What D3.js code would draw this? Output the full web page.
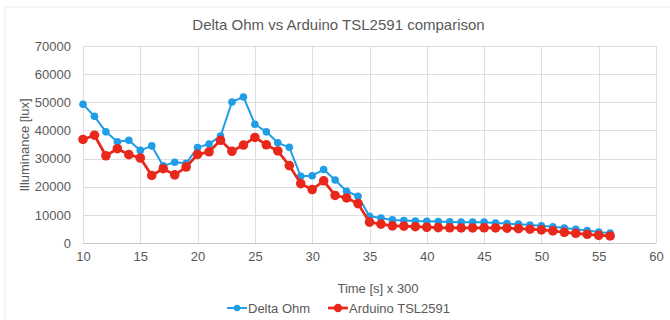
<!DOCTYPE html>
<html><head><meta charset="utf-8">
<script src="https://cdn.jsdelivr.net/npm/d3@7/dist/d3.min.js"></script>
<style>body{margin:0;background:#fff}svg{display:block}text{font-family:"Liberation Sans",Arial,sans-serif;fill:#595959}</style>
</head><body><svg id="c" width="670" height="320"></svg>
<script>
const xValues = d3.range(10, 57);
const deltaOhm = [49300,45000,39500,36000,36500,32900,34500,27400,28700,28300,33900,35200,38000,50100,51900,42200,39500,35600,34000,23700,23900,26100,22400,18400,16600,9500,8900,8200,8000,7800,7700,7600,7500,7400,7400,7400,7100,6900,6700,6400,6100,5800,5300,4900,4400,3900,3500];
const arduino = [36800,38300,31000,33500,31400,30200,24000,26400,24200,27000,31500,32400,36500,32600,34800,37500,34900,32700,27500,21100,19000,22100,16900,16000,14000,7400,6700,6100,6000,5800,5600,5450,5400,5350,5350,5400,5350,5250,5100,4900,4650,4300,3800,3450,3100,2750,2500];
const xTicks = [10,15,20,25,30,35,40,45,50,55,60];
const yTicks = [0,10000,20000,30000,40000,50000,60000,70000];
const seriesNames = ["Delta Ohm","Arduino TSL2591"];
const title = "Delta Ohm vs Arduino TSL2591 comparison";
const xTitle = "Time [s] x 300";
const yTitle = "Illuminance [lux]";

const colors = ["#1f9de6","#e8281b"];
const svg = d3.select("#c");
const x = d3.scaleLinear().domain([10,60]).range([83,656]);
const y = d3.scaleLinear().domain([0,70000]).range([243,46]);

// outer chart frame (partial)
svg.append("line").attr("x1",5).attr("x2",670).attr("y1",7).attr("y2",7).attr("stroke","#ececec");
svg.append("line").attr("x1",5).attr("x2",5).attr("y1",7).attr("y2",320).attr("stroke","#ececec");

// gridlines
svg.append("g").selectAll("line").data(yTicks).join("line")
  .attr("x1",x(10)).attr("x2",x(60)).attr("y1",d=>Math.round(y(d))+0.5).attr("y2",d=>Math.round(y(d))+0.5)
  .attr("stroke",d=>d===0?"#c8c8c8":"#dedede");
svg.append("g").selectAll("line").data(xTicks).join("line")
  .attr("x1",d=>Math.round(x(d))+0.5).attr("x2",d=>Math.round(x(d))+0.5).attr("y1",y(70000)).attr("y2",y(0))
  .attr("stroke","#dedede");

// axes labels via d3 axes
const yAxis = svg.append("g").attr("transform",`translate(${x(10)},0)`)
  .call(d3.axisLeft(y).tickValues(yTicks).tickSize(0).tickPadding(12).tickFormat(d3.format("d")));
yAxis.select(".domain").remove();
yAxis.selectAll("text").style("font-size","13px").attr("fill","#595959");
const xAxis = svg.append("g").attr("transform",`translate(0,${y(0)})`)
  .call(d3.axisBottom(x).tickValues(xTicks).tickSize(0).tickPadding(9).tickFormat(d3.format("d")));
xAxis.select(".domain").remove();
xAxis.selectAll("text").style("font-size","13px").attr("fill","#595959");

// titles
svg.append("text").attr("x",338.5).attr("y",30).attr("text-anchor","middle").style("font-size","15px").text(title);
svg.append("text").attr("x",378).attr("y",293).attr("text-anchor","middle").style("font-size","13px").text(xTitle);
svg.append("text").attr("transform","translate(29,145) rotate(-90)").attr("text-anchor","middle").style("font-size","13px").text(yTitle);

// series
const all = [deltaOhm, arduino];
const widths = [2, 2.75], radii = [3.8, 4.8];
all.forEach((vals,i)=>{
  const pts = xValues.map((xv,j)=>[xv, vals[j]]);
  svg.append("path").datum(pts)
    .attr("d", d3.line().x(d=>x(d[0])).y(d=>y(d[1])))
    .attr("fill","none").attr("stroke",colors[i]).attr("stroke-width",widths[i]).attr("stroke-linejoin","round");
  svg.append("g").selectAll("circle").data(pts).join("circle")
    .attr("cx",d=>x(d[0])).attr("cy",d=>y(d[1])).attr("r",radii[i]).attr("fill",colors[i]);
});

// legend
const legendX = [227, 328];
seriesNames.forEach((n,i)=>{
  const g = svg.append("g").attr("transform",`translate(${legendX[i]},308)`);
  g.append("line").attr("x1",0).attr("x2",20).attr("stroke",colors[i]).attr("stroke-width",widths[i]);
  g.append("circle").attr("cx",10).attr("r",radii[i]-0.6).attr("fill",colors[i]);
  g.append("text").attr("x",21).attr("y",4.5).style("font-size","13px").text(n);
});
</script></body></html>
